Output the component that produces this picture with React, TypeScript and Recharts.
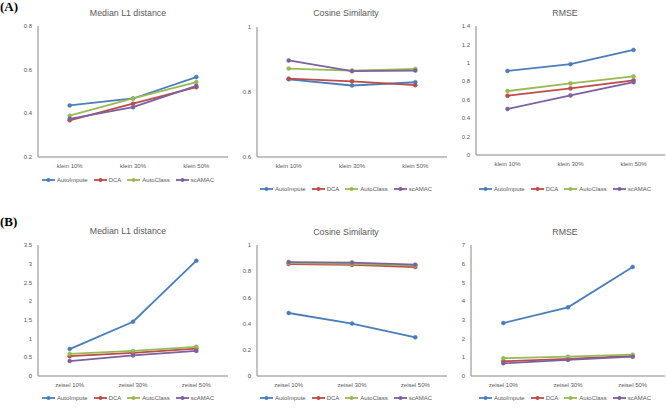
import React from 'react';
import { LineChart, Line, XAxis, YAxis, Legend } from 'recharts';

const seriesNames = ['AutoImpute', 'DCA', 'AutoClass', 'scAMAC'];
const seriesColors = ['#4a7ebb', '#be4b48', '#98b954', '#7d60a0'];

const kleinCategories = ['klein 10%', 'klein 30%', 'klein 50%'];
const zeiselCategories = ['zeisel 10%', 'zeisel 30%', 'zeisel 50%'];

// (A) klein – Median L1 distance
const kleinL1AutoImpute = [0.436, 0.468, 0.566];
const kleinL1DCA = [0.368, 0.444, 0.52];
const kleinL1AutoClass = [0.389, 0.468, 0.543];
const kleinL1scAMAC = [0.375, 0.428, 0.526];

// (A) klein – Cosine Similarity
const kleinCosAutoImpute = [0.839, 0.82, 0.83];
const kleinCosDCA = [0.841, 0.833, 0.821];
const kleinCosAutoClass = [0.872, 0.866, 0.871];
const kleinCosscAMAC = [0.897, 0.864, 0.866];

// (A) klein – RMSE
const kleinRmseAutoImpute = [0.912, 0.986, 1.14];
const kleinRmseDCA = [0.643, 0.723, 0.81];
const kleinRmseAutoClass = [0.694, 0.777, 0.853];
const kleinRmsescAMAC = [0.5, 0.647, 0.79];

// (B) zeisel – Median L1 distance
const zeiselL1AutoImpute = [0.72, 1.45, 3.08];
const zeiselL1DCA = [0.53, 0.62, 0.73];
const zeiselL1AutoClass = [0.59, 0.67, 0.78];
const zeiselL1scAMAC = [0.4, 0.55, 0.67];

// (B) zeisel – Cosine Similarity
const zeiselCosAutoImpute = [0.481, 0.4, 0.295];
const zeiselCosDCA = [0.855, 0.848, 0.832];
const zeiselCosAutoClass = [0.862, 0.856, 0.842];
const zeiselCosscAMAC = [0.87, 0.866, 0.85];

// (B) zeisel – RMSE
const zeiselRmseAutoImpute = [2.83, 3.67, 5.83];
const zeiselRmseDCA = [0.79, 0.91, 1.07];
const zeiselRmseAutoClass = [0.95, 1.03, 1.14];
const zeiselRmsescAMAC = [0.68, 0.86, 1.03];

const ticksL1Klein = [0.2, 0.4, 0.6, 0.8];
const ticksCosKlein = [0.6, 0.8, 1];
const ticksRmseKlein = [0, 0.2, 0.4, 0.6, 0.8, 1, 1.2, 1.4];
const ticksL1Zeisel = [0, 0.5, 1, 1.5, 2, 2.5, 3, 3.5];
const ticksCosZeisel = [0, 0.2, 0.4, 0.6, 0.8, 1];
const ticksRmseZeisel = [0, 1, 2, 3, 4, 5, 6, 7];

const buildRows = (cats: string[], series: number[][]) =>
  cats.map((c, i) => {
    const row: any = { cat: c };
    seriesNames.forEach((n, k) => {
      row[n] = series[k][i];
    });
    return row;
  });

const FONT = '"Liberation Sans", Arial, sans-serif';
const TEXT = '#595959';
const AXIS = '#868686';

const LegendContent = () => (
  <div
    style={{
      display: 'flex',
      justifyContent: 'center',
      alignItems: 'center',
      height: 8,
      fontSize: 6,
      lineHeight: '8px',
      color: TEXT,
      fontFamily: FONT,
      whiteSpace: 'nowrap',
    }}
  >
    {seriesNames.map((n, k) => (
      <div key={n} style={{ display: 'flex', alignItems: 'center', margin: '0 3px' }}>
        <svg width={13} height={6}>
          <line x1={0} y1={3} x2={13} y2={3} stroke={seriesColors[k]} strokeWidth={1.8} />
          <circle cx={6.5} cy={3} r={2} fill={seriesColors[k]} />
        </svg>
        <span style={{ marginLeft: 2 }}>{n}</span>
      </div>
    ))}
  </div>
);

type PanelProps = {
  rows: any[];
  left: number;
  right: number;
  top: number;
  bottom: number;
  domain: [number, number];
  ticks: number[];
  title: string;
  centerX: number;
  titleY: number;
  legendY: number;
};

const Panel = (p: PanelProps) => {
  const yw = 34;
  const xh = 45;
  const chartLeft = p.left - yw;
  const chartTop = p.top - 6;
  const width = p.right - chartLeft;
  const height = p.bottom - chartTop + xh;
  const pad = (p.right - p.left) / (2 * p.rows.length);
  return (
    <>
      <div
        style={{
          position: 'absolute',
          left: p.centerX - 80,
          width: 160,
          top: p.titleY - 6,
          height: 12,
          lineHeight: '12px',
          textAlign: 'center',
          fontFamily: FONT,
          fontSize: 8.8,
          color: TEXT,
        }}
      >
        {p.title}
      </div>
      <div style={{ position: 'absolute', left: chartLeft, top: chartTop }}>
        <LineChart
          width={width}
          height={height}
          data={p.rows}
          margin={{ top: 6, right: 0, left: 0, bottom: 0 }}
        >
          <XAxis
            dataKey="cat"
            height={xh}
            tickLine={false}
            tickSize={0}
            tickMargin={7}
            stroke={AXIS}
            padding={{ left: pad, right: pad }}
            tick={{ fontSize: 6, fill: TEXT, fontFamily: FONT }}
            interval={0}
          />
          <YAxis
            width={yw}
            domain={p.domain}
            ticks={p.ticks}
            tickLine={false}
            tickSize={0}
            tickMargin={6}
            stroke={AXIS}
            allowDataOverflow
            tick={{ fontSize: 6, fill: TEXT, fontFamily: FONT }}
          />
          <Legend
            verticalAlign="middle"
            align="center"
            layout="horizontal"
            content={<LegendContent />}
            wrapperStyle={{
              left: p.centerX - chartLeft - 110,
              width: 220,
              top: p.legendY - chartTop - 4,
              height: 8,
            }}
          />
          {seriesNames.map((n, k) => (
            <Line
              key={n}
              dataKey={n}
              stroke={seriesColors[k]}
              strokeWidth={1.8}
              dot={{ r: 2, fill: seriesColors[k], stroke: seriesColors[k], strokeWidth: 0.5 }}
              activeDot={false}
              isAnimationActive={false}
            />
          ))}
        </LineChart>
      </div>
    </>
  );
};

const rowsKleinL1 = buildRows(kleinCategories, [kleinL1AutoImpute, kleinL1DCA, kleinL1AutoClass, kleinL1scAMAC]);
const rowsKleinCos = buildRows(kleinCategories, [kleinCosAutoImpute, kleinCosDCA, kleinCosAutoClass, kleinCosscAMAC]);
const rowsKleinRmse = buildRows(kleinCategories, [kleinRmseAutoImpute, kleinRmseDCA, kleinRmseAutoClass, kleinRmsescAMAC]);
const rowsZeiselL1 = buildRows(zeiselCategories, [zeiselL1AutoImpute, zeiselL1DCA, zeiselL1AutoClass, zeiselL1scAMAC]);
const rowsZeiselCos = buildRows(zeiselCategories, [zeiselCosAutoImpute, zeiselCosDCA, zeiselCosAutoClass, zeiselCosscAMAC]);
const rowsZeiselRmse = buildRows(zeiselCategories, [zeiselRmseAutoImpute, zeiselRmseDCA, zeiselRmseAutoClass, zeiselRmsescAMAC]);

const sectionLabel: React.CSSProperties = {
  position: 'absolute',
  left: 0,
  fontFamily: '"Liberation Serif", "Times New Roman", serif',
  fontWeight: 'bold',
  fontSize: 13,
  lineHeight: '14px',
  color: '#000',
};

export default function App() {
  return (
    <div
      style={{
        position: 'absolute',
        left: 0,
        top: 0,
        width: 666,
        height: 410,
        background: '#fff',
        overflow: 'hidden',
      }}
    >
      <div style={{ ...sectionLabel, top: 0 }}>(A)</div>
      <div style={{ ...sectionLabel, top: 215 }}>(B)</div>

      <Panel rows={rowsKleinL1} left={38} right={228} top={26} bottom={157} domain={[0.2, 0.8]} ticks={ticksL1Klein} title="Median L1 distance" centerX={128} titleY={13} legendY={180} />
      <Panel rows={rowsKleinCos} left={257} right={447} top={27} bottom={157} domain={[0.6, 1]} ticks={ticksCosKlein} title="Cosine Similarity" centerX={346} titleY={13} legendY={189} />
      <Panel rows={rowsKleinRmse} left={476} right={665} top={26} bottom={155} domain={[0, 1.4]} ticks={ticksRmseKlein} title="RMSE" centerX={565} titleY={13} legendY={189} />

      <Panel rows={rowsZeiselL1} left={38} right={228} top={245} bottom={376} domain={[0, 3.5]} ticks={ticksL1Zeisel} title="Median L1 distance" centerX={128} titleY={231} legendY={398} />
      <Panel rows={rowsZeiselCos} left={257} right={447} top={245} bottom={376} domain={[0, 1]} ticks={ticksCosZeisel} title="Cosine Similarity" centerX={346} titleY={232} legendY={398} />
      <Panel rows={rowsZeiselRmse} left={471} right={665} top={245} bottom={376} domain={[0, 7]} ticks={ticksRmseZeisel} title="RMSE" centerX={565} titleY={232} legendY={398} />
    </div>
  );
}
